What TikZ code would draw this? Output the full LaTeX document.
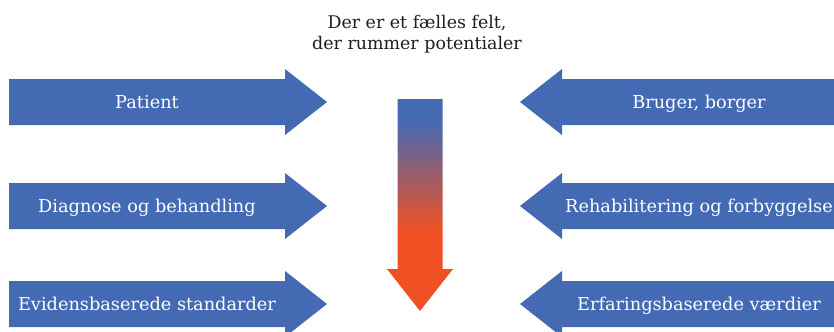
\documentclass[tikz,border=0pt]{standalone}
\usepackage{fontspec}
\setmainfont{DejaVu Serif}
\usetikzlibrary{positioning}
\definecolor{arrowblue}{RGB}{68,106,180}
\definecolor{arroworange}{RGB}{240,80,35}
\pgfdeclareverticalshading{blueorange}{100bp}{color(0bp)=(arroworange); color(44bp)=(arroworange); color(70bp)=(arrowblue); color(100bp)=(arrowblue)}

\begin{document}
\begin{tikzpicture}[x=1bp, y=-1bp,
  arrowshape/.style={fill=arrowblue, draw=none},
  arrowtext/.style={font=\fontsize{17.8}{20}\selectfont, text=white, inner sep=0pt, anchor=base},
  titletext/.style={font=\fontsize{17.5}{21}\selectfont, text=black!88, align=center, inner sep=0pt}]
  \useasboundingbox (0,0) rectangle (834,331);
  % left arrows
  \foreach \y/\txt/\name in {102/Patient/pat, 206/Diagnose og behandling/dia, 304/Evidensbaserede standarder/evi}{
    \fill[arrowshape] (9,\y-23) -- (285,\y-23) -- (285,\y-33) -- (327,\y) -- (285,\y+33) -- (285,\y+23) -- (9,\y+23) -- cycle;
    \node[arrowtext] (\name) at (147,\y+6.5) {\txt};
  }
  % right arrows
  \foreach \y/\txt/\name in {102/{Bruger, borger}/bru, 206/Rehabilitering og forbyggelse/reh, 304/Erfaringsbaserede værdier/erf}{
    \fill[arrowshape] (834,\y-23) -- (562,\y-23) -- (562,\y-33) -- (520,\y) -- (562,\y+33) -- (562,\y+23) -- (834,\y+23) -- cycle;
    \node[arrowtext] (\name) at (699,\y+6.5) {\txt};
  }
  % middle arrow
  \shade[shading=blueorange] (397.5,99) -- (442.5,99) -- (442.5,269) -- (453,269) -- (420,311) -- (387,269) -- (397.5,269) -- cycle;
  \node[titletext] (felt) at (417,34) {Der er et fælles felt,\\der rummer potentialer};
\end{tikzpicture}
\end{document}
